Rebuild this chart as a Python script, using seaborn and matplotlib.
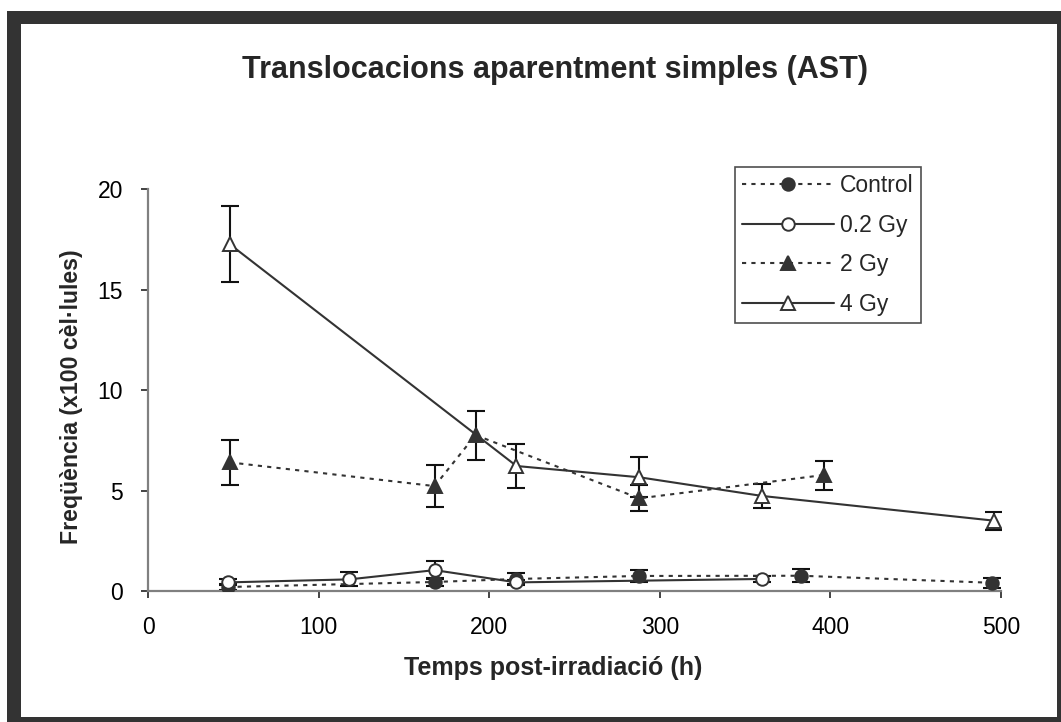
import numpy as np
import pandas as pd
import seaborn as sns
from matplotlib import pyplot as plt
from matplotlib.patches import Rectangle

# --- data ---
ctrl_t = [47, 168, 216, 288, 383, 495]
ctrl_f = [0.2, 0.45, 0.6, 0.75, 0.76, 0.41]
ctrl_e = [0.15, 0.2, 0.3, 0.3, 0.33, 0.25]

g02_t = [47, 118, 168, 216, 360]
g02_f = [0.43, 0.58, 1.04, 0.43, 0.6]
g02_e = [0.15, 0.35, 0.45, 0.1, 0.15]

g2_t = [48, 168, 192, 288, 396]
g2_f = [6.4, 5.22, 7.76, 4.61, 5.77]
g2_e = [1.12, 1.05, 1.22, 0.65, 0.72]

g4_t = [48, 216, 288, 360, 496]
g4_f = [17.25, 6.22, 5.66, 4.73, 3.5]
g4_e = [1.9, 1.1, 1.0, 0.6, 0.45]

labels = ['Control', '0.2 Gy', '2 Gy', '4 Gy']

sns.set_style('ticks')
plt.rcParams['font.family'] = ['Liberation Sans', 'DejaVu Sans']

dark = '#333333'
dotted = (0, (2, 2.5))

fig = plt.figure(figsize=(10.61, 7.22), dpi=100)
ax = fig.add_axes([0.1395, 0.1814, 0.8039, 0.5568])

series = [
    (ctrl_t, ctrl_f, ctrl_e, 'o', dark, dotted, 9),
    (g02_t, g02_f, g02_e, 'o', 'white', '-', 9),
    (g2_t, g2_f, g2_e, '^', dark, dotted, 10),
    (g4_t, g4_f, g4_e, '^', 'white', '-', 10),
]

for (t, f, e, m, fc, ls, ms), lab in zip(series, labels):
    df = pd.DataFrame({'t': t, 'f': f})
    ax.errorbar(t, f, yerr=e, fmt='none', ecolor='#111111', elinewidth=1.5,
                capsize=6.2, capthick=1.5, zorder=2)
    sns.lineplot(data=df, x='t', y='f', ax=ax, color=dark, linewidth=1.5,
                 linestyle=ls, marker=m, markersize=ms, markerfacecolor=fc,
                 markeredgecolor=dark, markeredgewidth=1.4, label=lab, zorder=3)

ax.set_xlim(0, 500)
ax.set_ylim(0, 20)
ax.set_xticks([0, 100, 200, 300, 400, 500])
ax.set_yticks([0, 5, 10, 15, 20])
sns.despine(ax=ax)
for s in ['left', 'bottom']:
    ax.spines[s].set_color('#808080')
    ax.spines[s].set_linewidth(1.6)
ax.tick_params(axis='both', direction='out', length=5, width=1.2, color='#222222',
               labelsize=16.5, labelcolor='black')
ax.tick_params(axis='y', pad=13)
ax.tick_params(axis='x', pad=13)

ax.set_xlabel('Temps post-irradiació (h)', fontsize=18, fontweight='bold')
ax.set_ylabel('Freqüència (x100 cèl·lules)', fontsize=16.7, fontweight='bold')
ax.xaxis.set_label_coords(0.475, -0.1915)
ax.xaxis.label.set_va('center')
ax.yaxis.set_label_coords(-0.09, 0.483)
ax.yaxis.label.set_va('center')

fig.text(0.523, 0.903, 'Translocacions aparentment simples (AST)', ha='center',
         va='center', fontsize=22, fontweight='bold')

leg = ax.legend(loc='upper left', bbox_to_anchor=(0.688, 1.055), borderaxespad=0,
                fontsize=16.5, handlelength=4.0, handletextpad=0.25, labelspacing=0.72,
                borderpad=0.32, frameon=True, fancybox=False, edgecolor='#222222')
leg.get_frame().set_linewidth(1.2)

# dark frame around the whole picture
W, H = 1061, 722
bc = '#333333'
for x0, y0, w, h in [(7, 0, 14, H - 11), (7, H - 24, W - 7, 13),
                     (1057, 0, 10, H - 11), (7, 0, W - 7, 5)]:
    fig.add_artist(Rectangle((x0 / W, y0 / H), w / W, h / H, transform=fig.transFigure,
                             facecolor=bc, edgecolor='none'))

fig.savefig('out.png', dpi=100)
